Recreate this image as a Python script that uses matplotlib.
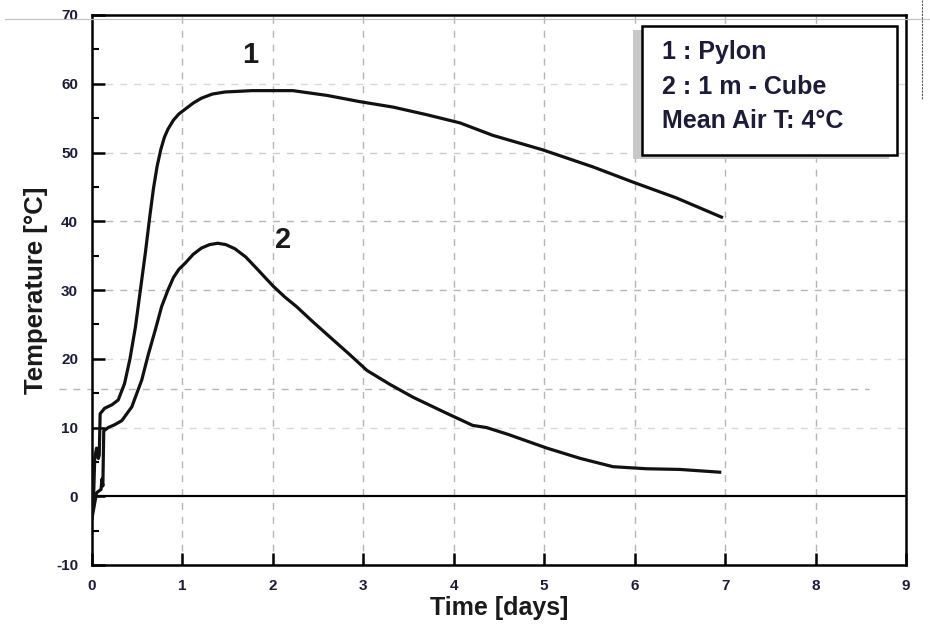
import numpy as np
import matplotlib
matplotlib.use('Agg')
import matplotlib.pyplot as plt
from matplotlib.patches import Rectangle
from matplotlib.lines import Line2D

plt.rcParams['font.family'] = ['Liberation Sans', 'DejaVu Sans']
plt.rcParams['font.weight'] = 'bold'
plt.rcParams['axes.unicode_minus'] = False

# curve 1 : Pylon
t_pylon = [0.0, 0.02, 0.03, 0.05, 0.07, 0.08, 0.09, 0.14, 0.22, 0.29, 0.36, 0.42, 0.48,
           0.54, 0.59, 0.64, 0.68, 0.72, 0.76, 0.80, 0.84, 0.90, 0.96, 1.03, 1.12, 1.21,
           1.33, 1.47, 1.77, 2.22, 2.6, 2.96, 3.33, 3.7, 4.07, 4.43, 4.98, 5.54, 5.98,
           6.46, 6.96]
T_pylon = [-3.2, 1.0, 5.5, 7.0, 5.5, 6.0, 12.0, 12.8, 13.3, 14.0, 16.4, 20.0, 24.6,
           30.5, 35.4, 40.8, 44.8, 48.0, 50.4, 52.2, 53.4, 54.7, 55.6, 56.3, 57.2, 57.9,
           58.5, 58.8, 59.0, 59.0, 58.3, 57.4, 56.6, 55.5, 54.3, 52.5, 50.4, 47.9, 45.7,
           43.4, 40.6]

# curve 2 : 1 m - Cube
t_cube = [0.0, 0.05, 0.10, 0.11, 0.12, 0.13, 0.18, 0.25, 0.33, 0.44, 0.55, 0.62, 0.70,
          0.77, 0.84, 0.90, 0.96, 1.03, 1.12, 1.21, 1.30, 1.39, 1.48, 1.58, 1.70, 1.83,
          2.0, 2.13, 2.26, 2.44, 2.67, 2.85, 3.04, 3.29, 3.55, 3.9, 4.21, 4.36, 4.6,
          5.03, 5.4, 5.76, 6.13, 6.5, 6.94]
T_cube = [-3.2, 0.5, 1.0, 2.5, 1.5, 9.5, 10.0, 10.4, 11.0, 13.0, 16.9, 20.5, 24.2,
          27.6, 30.0, 31.8, 33.0, 33.9, 35.2, 36.1, 36.6, 36.8, 36.6, 36.0, 34.8, 33.0,
          30.6, 29.0, 27.6, 25.4, 22.7, 20.6, 18.3, 16.3, 14.4, 12.2, 10.3, 10.0, 9.0,
          7.0, 5.5, 4.3, 4.0, 3.9, 3.5]

legend_lines = ['1 : Pylon', '2 : 1 m - Cube', 'Mean Air T: 4°C']
txt_col = '#1c1c3a'

fig = plt.figure(figsize=(9.3, 6.28), dpi=100)
ax = fig.add_axes([92/930, 63/628, 814/930, 550/628])

ax.set_xlim(0, 9)
ax.set_ylim(-10, 70)
ax.set_xticks(np.arange(0, 10, 1))
ax.set_yticks(np.arange(-10, 80, 10))
ax.set_yticks(np.arange(-5, 70, 10), minor=True)

# grid
for x in range(1, 9):
    ax.axvline(x, color='#b5b5b5', lw=1.0, ls=(0, (5, 5)), zorder=0)
for y, c in [(60, '#d8d8d8'), (50, '#cccccc'), (40, '#b5b5b5'), (30, '#b5b5b5'),
             (20, '#d8d8d8'), (10, '#d8d8d8')]:
    ax.axhline(y, color=c, lw=1.0, ls=(0, (5, 5)), zorder=0)
ax.axhline(15.6, xmin=-0.04, xmax=0.955, color='#b5b5b5', lw=1.0, ls=(0, (5, 5)),
           zorder=0, clip_on=False)
ax.axhline(0, color='black', lw=1.6, zorder=1)

ax.plot(t_pylon, T_pylon, color='#111111', lw=2.3, zorder=3)
ax.plot(t_cube, T_cube, color='#111111', lw=2.3, zorder=3)

ax.text(1.75, 64.2, '1', fontsize=21, fontweight='bold', ha='center', va='center', color='#1a1a1a')
ax.text(2.11, 37.3, '2', fontsize=21, fontweight='bold', ha='center', va='center', color='#1a1a1a')

# legend box with shadow
ax.add_patch(Rectangle((5.98, 49.0), 2.83, 18.8, facecolor='#c8c8c8', edgecolor='none', zorder=4))
ax.add_patch(Rectangle((6.08, 49.6), 2.82, 18.8, facecolor='white', edgecolor='black', lw=1.8, zorder=5))
for i, s in enumerate(legend_lines):
    ax.text(6.3, 64.6 - 5.0*i, s, fontsize=18, fontweight='bold', ha='left', va='center',
            color=txt_col, zorder=6)

for sp in ax.spines.values():
    sp.set_linewidth(1.8)
ax.tick_params(axis='both', which='major', direction='in', length=9, width=1.8,
               labelsize=11, colors='black', labelcolor=txt_col)
ax.tick_params(axis='y', which='minor', direction='in', length=5, width=1.5)
ax.tick_params(axis='x', pad=10)
ax.tick_params(axis='y', pad=10)
for lab in ax.get_xticklabels() + ax.get_yticklabels():
    lab.set_fontweight('bold')

ax.set_xlabel('Time [days]', fontsize=18, fontweight='bold', color='#1a1a1a', labelpad=2)
ax.set_ylabel('Temperature [°C]', fontsize=18.5, fontweight='bold', color='#1a1a1a', labelpad=6)

# scan artefacts at the page edge
fig.add_artist(Line2D([5/930, 1.0], [1 - 19/628, 1 - 19/628], color='#c0c0c0', lw=0.8))
fig.add_artist(Line2D([922/930, 922/930], [1.0, 1 - 100/628], color='#555555', lw=0.8, ls=(0, (2, 1))))

fig.savefig('out.png', dpi=100)
